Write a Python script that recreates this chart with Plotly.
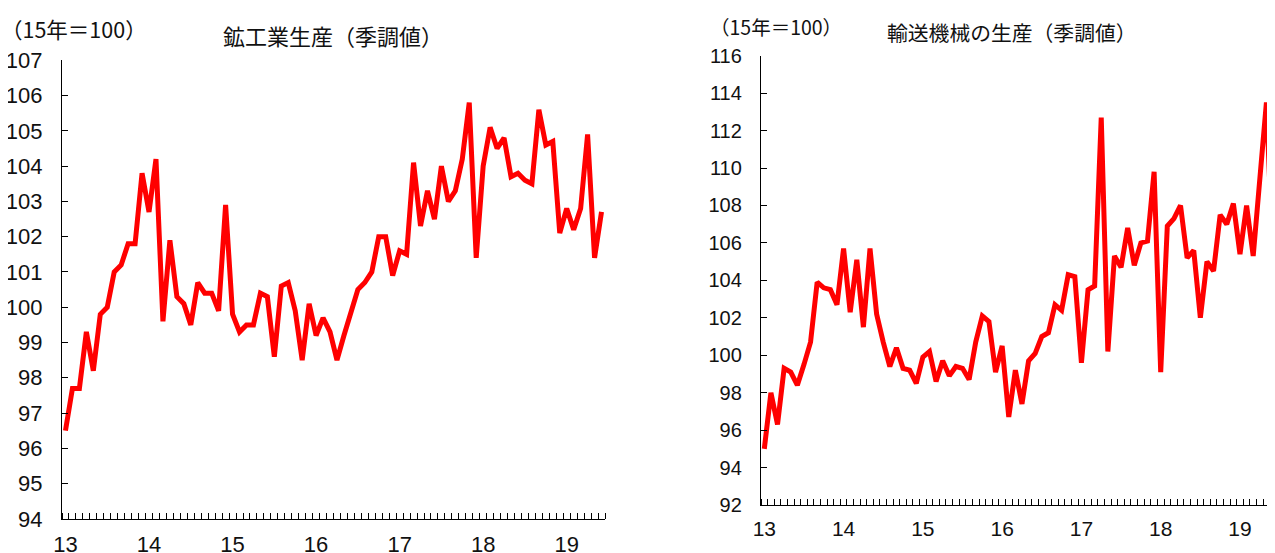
import plotly.graph_objects as go

# Monthly data, Jan 2013 - Jun 2019 (index 0 = Jan 2013)
mining_production = [
    96.5, 97.7, 97.7, 99.3, 98.2, 99.8, 100.0, 101.0, 101.2, 101.8, 101.8, 103.8,
    102.7, 104.2, 99.6, 101.9, 100.3, 100.1, 99.5, 100.7, 100.4, 100.4, 99.9, 102.9,
    99.8, 99.3, 99.5, 99.5, 100.4, 100.3, 98.6, 100.6, 100.7, 99.9, 98.5, 100.1,
    99.2, 99.7, 99.3, 98.5, 99.2, 99.8, 100.5, 100.7, 101.0, 102.0, 102.0, 100.9,
    101.6, 101.5, 104.1, 102.3, 103.3, 102.5, 104.0, 103.0, 103.3, 104.2, 105.8, 101.4,
    104.0, 105.1, 104.5, 104.8, 103.7, 103.8, 103.6, 103.5, 105.6, 104.6, 104.7, 102.1,
    102.8, 102.2, 102.8, 104.9, 101.4, 102.7,
]
transport_production = [
    95.0, 98.0, 96.3, 99.3, 99.1, 98.4, 99.5, 100.7, 103.9, 103.6, 103.5, 102.7,
    105.7, 102.3, 105.1, 101.5, 105.7, 102.2, 100.7, 99.4, 100.4, 99.3, 99.2, 98.5,
    99.9, 100.2, 98.6, 99.7, 98.9, 99.4, 99.3, 98.7, 100.7, 102.1, 101.8, 99.1,
    100.5, 96.7, 99.2, 97.4, 99.7, 100.1, 101.0, 101.2, 102.7, 102.4, 104.3, 104.2,
    99.6, 103.5, 103.7, 112.7, 100.2, 105.3, 104.7, 106.8, 104.8, 106.0, 106.1, 109.8,
    99.1, 106.9, 107.3, 108.0, 105.2, 105.6, 102.0, 105.0, 104.5, 107.5, 107.0, 108.1,
    105.4, 108.0, 105.3, 109.5, 113.5, 104.9,
]
year_labels = ["13", "14", "15", "16", "17", "18", "19"]
left_yticks = list(range(94, 108))
right_yticks = list(range(92, 117, 2))

months = list(range(len(mining_production)))
year_pos = [i * 12 for i in range(len(year_labels))]
minor_pos = [i - 0.5 for i in range(len(mining_production) + 1)]

OFF = 8  # page body margin offset
W, H = 1275 - OFF, 553 - OFF
def px_x(p):
    return (p - OFF) / W
def px_y(p):
    return 1 - (p - OFF) / H

RED = "#FF0000"
TICKFONT = "Liberation Sans Narrow, Arial Narrow, Liberation Sans, sans-serif"
JFONT = "Noto Sans CJK JP"

fig = go.Figure()
fig.add_trace(go.Scatter(x=months, y=mining_production, mode="lines",
                         line=dict(color=RED, width=5), xaxis="x", yaxis="y",
                         showlegend=False, hoverinfo="skip"))
fig.add_trace(go.Scatter(x=months, y=transport_production, mode="lines",
                         line=dict(color=RED, width=5), xaxis="x2", yaxis="y2",
                         showlegend=False, hoverinfo="skip"))

def xaxis_cfg(domain, rng, size, standoff):
    return dict(domain=domain, range=rng, showgrid=False, zeroline=False,
                automargin=False,
                showline=True, linecolor="#000", linewidth=1.3,
                tickmode="array", tickvals=year_pos, ticktext=year_labels,
                ticks="", ticklabelstandoff=standoff,
                tickfont=dict(family=TICKFONT, size=size, color="#111"),
                minor=dict(tickmode="array", tickvals=minor_pos, ticks="inside",
                           ticklen=6, tickwidth=1, tickcolor="#000", showgrid=False))

def yaxis_cfg(domain, rng, vals, size, anchor, standoff):
    return dict(domain=domain, range=rng, showgrid=False, zeroline=False,
                automargin=False,
                showline=True, linecolor="#000", linewidth=1.3,
                tickmode="array", tickvals=vals, ticks="inside", ticklen=6,
                tickwidth=1, tickcolor="#000", anchor=anchor,
                ticklabelstandoff=standoff,
                tickfont=dict(family=TICKFONT, size=size, color="#111"))

fig.update_layout(
    width=W, height=H, margin=dict(l=0, r=0, t=0, b=0),
    paper_bgcolor="white", plot_bgcolor="white",
    xaxis=xaxis_cfg([px_x(62), px_x(605)], [-0.5, 77.5], 22, 6) | dict(anchor="y"),
    yaxis=yaxis_cfg([px_y(518.9), px_y(60.3)], [94, 107], left_yticks, 22, "x", 14),
    xaxis2=xaxis_cfg([px_x(761), 1.0], [-0.5, 77.3], 21, 5) | dict(anchor="y2"),
    yaxis2=yaxis_cfg([px_y(505), px_y(55.7)], [92, 116], right_yticks, 20, "x2", 14),
)

ann = [
    ("（15年＝100）", 74, 28, 21.5),
    ("鉱工業生産（季調値）", 333, 35, 22),
    ("（15年＝100）", 776, 26, 19.5),
    ("輸送機械の生産（季調値）", 1012, 32, 20.8),
]
for text, cx, cy, size in ann:
    fig.add_annotation(text=text, x=px_x(cx), y=px_y(cy), xref="paper", yref="paper",
                       showarrow=False, xanchor="center", yanchor="middle",
                       font=dict(family=JFONT, size=size, color="#111"))

fig.write_html("out.html")
